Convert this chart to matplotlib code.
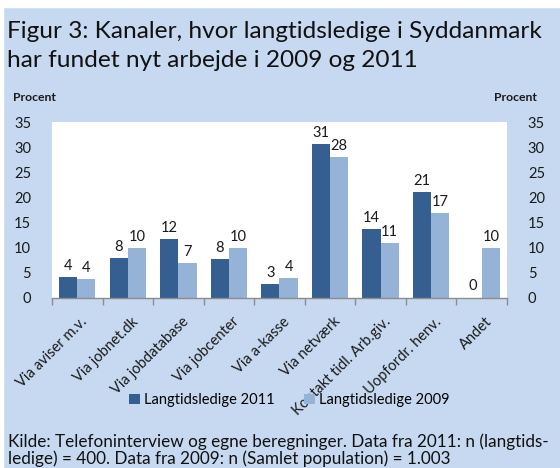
import matplotlib
matplotlib.use("Agg")
import matplotlib.pyplot as plt
import matplotlib.transforms as mtransforms
import numpy as np
from matplotlib.patches import Rectangle

plt.rcParams['font.family'] = ['Lato', 'DejaVu Sans']

categories = ["Via aviser m.v.", "Via jobnet.dk", "Via jobdatabase", "Via jobcenter",
              "Via a-kasse", "Via netværk", "Kontakt tidl. Arb.giv.", "Uopfordr. henv.", "Andet"]
values_2011 = [4.0, 7.9, 11.6, 7.6, 2.6, 30.6, 13.6, 21.1, 0.0]
values_2009 = [3.75, 9.9, 6.8, 9.9, 3.8, 28.0, 10.9, 16.9, 9.9]
series_names = ["Langtidsledige 2011", "Langtidsledige 2009"]
yticks = [0, 5, 10, 15, 20, 25, 30, 35]

bg = "#c6d9f0"
c2011 = "#365f91"
c2009 = "#95b3d7"
txt = "#1a1a1a"

W, H = 560, 468
fig = plt.figure(figsize=(W/100, H/100), dpi=100)
fig.patch.set_facecolor(bg)
fig.add_artist(Rectangle((0, 1 - 7/H), 1, 7/H, transform=fig.transFigure, color="white", zorder=0))
fig.add_artist(Rectangle((0, 0), 3/W, 1, transform=fig.transFigure, color="white", zorder=0))

left, right, top, bottom = 52, 507, 122, 297.5
ax = fig.add_axes([left/W, 1 - bottom/H, (right-left)/W, (bottom-top)/H])
ax.set_facecolor("white")

x = np.arange(len(categories))
bw = 0.36
b1 = ax.bar(x - bw/2, values_2011, bw, color=c2011, label=series_names[0], zorder=2)
b2 = ax.bar(x + bw/2, values_2009, bw, color=c2009, label=series_names[1], zorder=2)
for bars in (b1, b2):
    ax.bar_label(bars, labels=["%.0f" % b.get_height() for b in bars], padding=3,
                 fontsize=10.5, color=txt)

ax.set_xlim(-0.5, len(categories) - 0.5)
ax.set_ylim(0, 35)
ax.set_yticks(yticks)
ax.tick_params(axis='y', length=0, labelsize=10.5, pad=15, labelcolor=txt)
for s in ["top", "left", "right"]:
    ax.spines[s].set_visible(False)
ax.spines["bottom"].set_color("#8c8c8c")
ax.spines["bottom"].set_linewidth(1.0)

ax.set_xticks(np.arange(-0.5, len(categories)), minor=True)
ax.tick_params(axis='x', which='minor', length=5, color="#8c8c8c", width=1.0)
ax.set_xticks(x)
ax.tick_params(axis='x', which='major', length=0, pad=0)
ax.set_xticklabels(categories, rotation=45, ha='right', va='top', rotation_mode='anchor',
                   fontsize=10.5, color=txt)
off = mtransforms.ScaledTranslation(3/100, -17/100, fig.dpi_scale_trans)
for lab in ax.get_xticklabels():
    lab.set_transform(lab.get_transform() + off)

ax2 = ax.twinx()
ax2.set_ylim(0, 35)
ax2.set_yticks(yticks)
ax2.tick_params(axis='y', length=0, labelsize=10.5, pad=15, labelcolor=txt)
for s in ["top", "left", "right", "bottom"]:
    ax2.spines[s].set_visible(False)

fig.text(7/W, 1 - 38/H, "Figur 3: Kanaler, hvor langtidsledige i Syddanmark",
         fontsize=17.6, color="#111111", va='baseline', ha='left')
fig.text(7/W, 1 - 67/H, "har fundet nyt arbejde i 2009 og 2011",
         fontsize=17.6, color="#111111", va='baseline', ha='left')

fig.text(13/W, 1 - 101/H, "Procent", fontsize=8.8, fontweight='bold', va='baseline', ha='left', color=txt)
fig.text(537/W, 1 - 101/H, "Procent", fontsize=8.8, fontweight='bold', va='baseline', ha='right', color=txt)

leg = fig.legend(handles=[b1, b2], labels=series_names, loc='center', bbox_to_anchor=(289.5/W, 1 - 400/H),
                 ncol=2, frameon=False, fontsize=10.5, handlelength=0.75, handleheight=0.75,
                 handletextpad=0.3, columnspacing=2.0, borderpad=0)

fig.text(8/W, 1 - 447/H, "Kilde: Telefoninterview og egne beregninger. Data fra 2011: n (langtids-",
         fontsize=12.3, color="#111111", va='baseline', ha='left')
fig.text(8/W, 1 - 464/H, "ledige) = 400. Data fra 2009: n (Samlet population) = 1.003",
         fontsize=12.3, color="#111111", va='baseline', ha='left')

fig.savefig("out.png", dpi=100, facecolor=bg)
